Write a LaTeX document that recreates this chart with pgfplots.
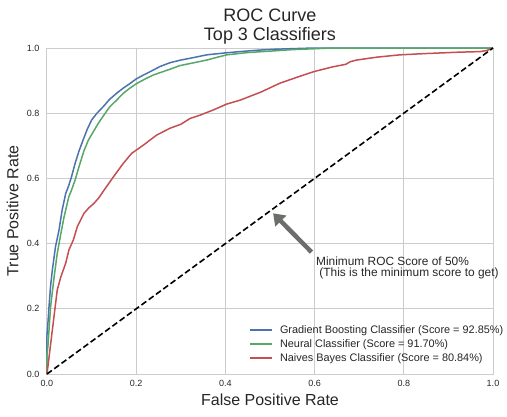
\documentclass[border=0pt]{standalone}
\usepackage{fontspec}
\setmainfont{Liberation Sans}
\usepackage{pgfplots}
\pgfplotsset{compat=1.18}
\usetikzlibrary{arrows.meta}
\definecolor{sbblue}{HTML}{4C72B0}
\definecolor{sbgreen}{HTML}{55A868}
\definecolor{sbred}{HTML}{C44E52}
\definecolor{gridc}{HTML}{CCCCCC}
\definecolor{txt}{HTML}{262626}
\definecolor{arrowc}{HTML}{6B6E6A}
\begin{document}
\begin{tikzpicture}
\begin{axis}[
  scale only axis, width=446pt, height=326pt,
  xmin=0, xmax=1, ymin=0, ymax=1,
  xtick={0,0.2,0.4,0.6,0.8,1}, xticklabels={0.0,0.2,0.4,0.6,0.8,1.0},
  ytick={0,0.2,0.4,0.6,0.8,1}, yticklabels={0.0,0.2,0.4,0.6,0.8,1.0},
  grid=major, major grid style={draw=gridc, line width=1pt},
  axis line style={draw=gridc, line width=1pt},
  major tick length=0pt,
  tick label style={font=\fontsize{9}{10}\selectfont, text=txt},
  xticklabel style={yshift=-3pt},
  yticklabel style={xshift=-4pt},
  clip=false,
]
\addplot[draw=sbblue, line width=1.5pt] coordinates {
(0,0) (0,0.12) (0.002,0.155) (0.0045,0.206) (0.008,0.27) (0.012,0.319) (0.019,0.39) (0.027,0.442) (0.034,0.503) (0.042,0.554) (0.048,0.575) (0.055,0.605) (0.063,0.646) (0.072,0.685) (0.081,0.718) (0.09,0.75) (0.10,0.779) (0.112,0.80) (0.126,0.82) (0.14,0.842) (0.156,0.861) (0.17,0.876) (0.186,0.891) (0.20,0.905) (0.216,0.917) (0.235,0.93) (0.253,0.943) (0.276,0.955) (0.30,0.963) (0.33,0.971) (0.358,0.979) (0.40,0.985) (0.433,0.989) (0.47,0.993) (0.507,0.996) (0.55,0.998) (0.6,1.0) (1,1)
};
\addplot[draw=sbgreen, line width=1.5pt] coordinates {
(0,0) (0,0.06) (0.002,0.084) (0.008,0.206) (0.016,0.298) (0.023,0.37) (0.031,0.43) (0.038,0.48) (0.049,0.544) (0.055,0.564) (0.063,0.595) (0.074,0.646) (0.083,0.685) (0.093,0.718) (0.115,0.769) (0.128,0.795) (0.141,0.82) (0.156,0.84) (0.171,0.861) (0.186,0.877) (0.201,0.891) (0.22,0.905) (0.238,0.917) (0.276,0.935) (0.298,0.946) (0.33,0.955) (0.358,0.963) (0.38,0.971) (0.403,0.979) (0.45,0.986) (0.507,0.991) (0.55,0.995) (0.64,1.0) (1,1)
};
\addplot[draw=sbred, line width=1.5pt] coordinates {
(0,0) (0.012,0.135) (0.023,0.258) (0.031,0.298) (0.042,0.34) (0.049,0.38) (0.059,0.411) (0.068,0.452) (0.083,0.493) (0.094,0.51) (0.105,0.523) (0.116,0.54) (0.128,0.564) (0.149,0.605) (0.171,0.646) (0.19,0.677) (0.216,0.702) (0.246,0.733) (0.276,0.754) (0.30,0.766) (0.321,0.784) (0.343,0.794) (0.373,0.81) (0.403,0.828) (0.433,0.84) (0.48,0.865) (0.522,0.892) (0.56,0.91) (0.597,0.927) (0.64,0.942) (0.67,0.95) (0.68,0.958) (0.694,0.963) (0.74,0.972) (0.791,0.979) (0.85,0.983) (0.92,0.987) (0.971,0.989) (0.985,0.992) (0.993,0.996) (1,1)
};
\addplot[draw=black, line width=1.6pt, dash pattern=on 6pt off 3pt] coordinates {(0,0) (1,1)};
\draw[arrowc, line width=4.5pt, -{Triangle[length=11pt, width=15pt]}] (axis cs:0.593,0.374) -- (axis cs:0.507,0.493);
\node[anchor=base west, inner sep=0pt, font=\fontsize{11.9}{12}\selectfont, text=txt] at (axis cs:0.603,0.333) {Minimum ROC Score of 50\%};
\node[anchor=base west, inner sep=0pt, font=\fontsize{11.9}{12}\selectfont, text=txt] at (axis cs:0.603,0.300) {\ (This is the minimum score to get)};
% legend
\draw[sbblue, line width=1.5pt] (rel axis cs:0.455,0.135) -- (rel axis cs:0.5045,0.135);
\draw[sbgreen, line width=1.5pt] (rel axis cs:0.455,0.092) -- (rel axis cs:0.5045,0.092);
\draw[sbred, line width=1.5pt] (rel axis cs:0.455,0.049) -- (rel axis cs:0.5045,0.049);
\node[anchor=base west, inner sep=0pt, font=\fontsize{10.9}{12}\selectfont, text=txt] at ([yshift=-3.8pt]rel axis cs:0.522,0.135) {Gradient Boosting Classifier (Score = 92.85\%)};
\node[anchor=base west, inner sep=0pt, font=\fontsize{10.9}{12}\selectfont, text=txt] at ([yshift=-3.8pt]rel axis cs:0.522,0.092) {Neural Classifier (Score = 91.70\%)};
\node[anchor=base west, inner sep=0pt, font=\fontsize{10.9}{12}\selectfont, text=txt] at ([yshift=-3.8pt]rel axis cs:0.522,0.049) {Naives Bayes Classifier (Score = 80.84\%)};
% titles and labels
\node[anchor=base, inner sep=0pt, font=\fontsize{18}{20}\selectfont, text=txt] at ([yshift=26.3pt]rel axis cs:0.5,1) {ROC Curve};
\node[anchor=base, inner sep=0pt, font=\fontsize{18}{20}\selectfont, text=txt] at ([yshift=7.3pt]rel axis cs:0.5,1) {Top 3 Classifiers};
\node[anchor=base, inner sep=0pt, font=\fontsize{16}{18}\selectfont, text=txt] at ([yshift=-31.7pt]rel axis cs:0.5,0) {False Positive Rate};
\node[anchor=base, rotate=90, inner sep=0pt, font=\fontsize{16}{18}\selectfont, text=txt] at ([xshift=-28.7pt]rel axis cs:0,0.5) {True Positive Rate};
\coordinate (ll) at (rel axis cs:0,0);
\coordinate (ur) at (rel axis cs:1,1);
\end{axis}
\path ([shift={(-47pt,-42pt)}]ll) rectangle ([shift={(14pt,48pt)}]ur);
\end{tikzpicture}
\end{document}
